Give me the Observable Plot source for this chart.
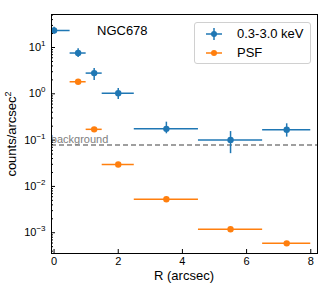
<!DOCTYPE html>
<html>
<head>
<meta charset="utf-8">
<script src="https://cdn.jsdelivr.net/npm/d3@7"></script>
<script src="https://cdn.jsdelivr.net/npm/@observablehq/plot@0.6"></script>
<style>
  body { margin: 0; background: #fff; }
  #wrap { position: relative; width: 324px; height: 291px; font-family: "Liberation Sans", Arial, sans-serif; }
  #title { position: absolute; left: 97px; top: 23px; font-size: 13px; color: #000; }
  #legend { position: absolute; left: 194px; top: 22px; width: 115px; height: 40px; border: 1px solid #d0d0d0; border-radius: 3px; background: rgba(255,255,255,0.8); font-size: 13px; }
  .row { position: absolute; left: 0; height: 16px; line-height: 16px; }
  .sym { position: absolute; left: 10px; top: 0; width: 18px; height: 16px; }
  .lab { position: absolute; left: 42px; top: 0; white-space: nowrap; }
</style>
</head>
<body>
<div id="wrap"></div>
<script>
// Source band 0.3-3.0 keV
const blueX   = [0, 0.75, 1.25, 2, 3.5, 5.5, 7.25];
const blueXlo = [-0.5, 0.5, 1.0, 1.5, 2.5, 4.5, 6.5];
const blueXhi = [0.5, 1.0, 1.5, 2.5, 4.5, 6.5, 8.0];
const blueY   = [23.3, 7.6, 2.8, 1.03, 0.175, 0.101, 0.168];
const blueYlo = [19.5, 6.1, 1.95, 0.75, 0.137, 0.051, 0.116];
const blueYhi = [27.5, 9.4, 3.5, 1.3, 0.244, 0.153, 0.225];
// PSF
const psfX   = [0.75, 1.25, 2, 3.5, 5.5, 7.25];
const psfXlo = [0.5, 1.0, 1.5, 2.5, 4.5, 6.5];
const psfXhi = [1.0, 1.5, 2.5, 4.5, 6.5, 8.0];
const psfY   = [1.82, 0.171, 0.0297, 0.0053, 0.00119, 0.00059];
// background level
const bgLevel = 0.078;
const bgLabel = "background";
const bgLabelX = -0.1;
// ticks
const xTicks = [0, 2, 4, 6, 8];
const yTicks = [1e-3, 1e-2, 1e-1, 1e0, 1e1];
const yTickExp = ["−3", "−2", "−1", "0", "1"];
const yMinor = [];
for (let e = -4; e <= 1; e++) for (let m = 2; m <= 9; m++) { const v = m * Math.pow(10, e); if (v > 3.6e-4 && v < 51) yMinor.push(v); }

const blueColor = "#1f77b4", psfColor = "#ff7f0e";
const blue = blueX.map((x, i) => ({x, x0: blueXlo[i], x1: blueXhi[i], y: blueY[i], y0: blueYlo[i], y1: blueYhi[i]}));
const psf = psfX.map((x, i) => ({x, x0: psfXlo[i], x1: psfXhi[i], y: psfY[i]}));

const chart = Plot.plot({
  width: 324, height: 291,
  marginLeft: 51, marginRight: 7, marginTop: 14, marginBottom: 38,
  style: {fontFamily: "Liberation Sans, Arial, sans-serif", fontSize: "11px", color: "#000", background: "#fff"},
  x: {domain: [-0.08, 8.21]},
  y: {type: "log", domain: [3.56e-4, 51.6]},
  marks: [
    Plot.ruleY([bgLevel], {stroke: "#808080", strokeWidth: 1.5, strokeDasharray: "5,3"}),
    Plot.text([bgLevel], {x: bgLabelX, y: d => d, text: () => bgLabel, textAnchor: "start", fill: "#808080", fontSize: 11, dy: -6}),
    Plot.ruleY(psf, {y: "y", x1: "x0", x2: "x1", stroke: psfColor, strokeWidth: 1.5, clip: true}),
    Plot.dot(psf, {x: "x", y: "y", r: 3.2, fill: psfColor, stroke: "none"}),
    Plot.ruleY(blue, {y: "y", x1: "x0", x2: "x1", stroke: blueColor, strokeWidth: 1.5, clip: true}),
    Plot.ruleX(blue, {x: "x", y1: "y0", y2: "y1", stroke: blueColor, strokeWidth: 1.5}),
    Plot.dot(blue, {x: "x", y: "y", r: 3.2, fill: blueColor, stroke: "none", clip: true}),
    Plot.axisX({ticks: xTicks, tickSize: 0, tickPadding: 4, tickFormat: d => String(d), label: null, fontSize: 11}),
    Plot.axisX({ticks: xTicks, tickSize: -4, text: null, label: null}),
    Plot.axisY({ticks: yTicks, tickSize: 0, tickPadding: 6, tickFormat: d => "10^" + yTickExp[yTicks.indexOf(d)], label: null, fontSize: 11}),
    Plot.axisY({ticks: yTicks, tickSize: -4, text: null, label: null}),
    Plot.axisY({ticks: yMinor, tickSize: -2, text: null, label: null}),
    Plot.frame({stroke: "#000", strokeWidth: 1})
  ]
});

const wrap = document.getElementById("wrap");
wrap.appendChild(chart);
const svg = d3.select(chart);
// rebuild y tick labels as 10 with superscript exponent
svg.selectAll("text").each(function() {
  const t = d3.select(this);
  const s = t.text();
  if (s.startsWith("10^")) {
    const ex = s.slice(3);
    t.text("");
    t.append("tspan").text("10");
    t.append("tspan").attr("font-size", 8).attr("dy", -5).text(ex);
  }
});
svg.append("text").attr("x", 184).attr("y", 280).attr("text-anchor", "middle")
  .attr("font-size", 13).attr("font-family", "Liberation Sans, Arial, sans-serif").attr("fill", "#000").text("R (arcsec)");
const yl = svg.append("text").attr("transform", "translate(16,134) rotate(-90)").attr("text-anchor", "middle")
  .attr("font-size", 13).attr("font-family", "Liberation Sans, Arial, sans-serif").attr("fill", "#000");
yl.append("tspan").text("counts/arcsec");
yl.append("tspan").attr("font-size", 9).attr("dy", -5).text("2");

const title = document.createElement("div");
title.id = "title"; title.textContent = "NGC678";
wrap.appendChild(title);

const legend = document.createElement("div");
legend.id = "legend";
const entries = [
  {label: "0.3-3.0 keV", color: blueColor, vbar: true},
  {label: "PSF", color: psfColor, vbar: false}
];
entries.forEach((e, i) => {
  const row = document.createElement("div");
  row.className = "row"; row.style.top = (3 + i * 19) + "px"; row.style.width = "100%";
  row.innerHTML = `<svg class="sym" width="18" height="16">
    <line x1="1" x2="17" y1="8" y2="8" stroke="${e.color}" stroke-width="1.5"/>
    ${e.vbar ? `<line x1="9" x2="9" y1="2" y2="14" stroke="${e.color}" stroke-width="1.5"/>` : ""}
    <circle cx="9" cy="8" r="3" fill="${e.color}"/></svg><span class="lab">${e.label}</span>`;
  legend.appendChild(row);
});
wrap.appendChild(legend);
</script>
</body>
</html>
